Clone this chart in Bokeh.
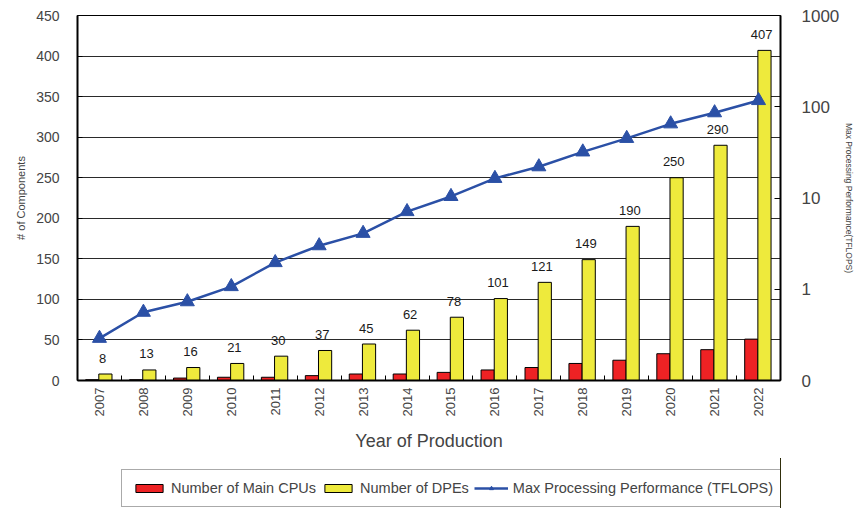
import math
from bokeh.plotting import figure
from bokeh.layouts import column
from bokeh.models import (Range1d, LogAxis, LogScale, FixedTicker, Legend, LegendItem,
                          CustomJSTickFormatter, PrintfTickFormatter, ColumnDataSource)
from bokeh.transform import dodge
from bokeh.core.properties import value
from bokeh.embed import file_html
from bokeh.resources import INLINE

years = [2007, 2008, 2009, 2010, 2011, 2012, 2013, 2014, 2015, 2016, 2017, 2018, 2019, 2020, 2021, 2022]
main_cpus = [1, 1, 3, 4, 4, 6, 8, 8, 10, 13, 16, 21, 25, 33, 38, 51]
dpes = [8, 13, 16, 21, 30, 37, 45, 62, 78, 101, 121, 149, 190, 250, 290, 407]
tflops = [0.29, 0.56, 0.73, 1.07, 1.96, 3.0, 4.1, 7.1, 10.4, 16.4, 22, 32, 45, 65, 86, 117]
left_ticks = [0, 50, 100, 150, 200, 250, 300, 350, 400, 450]
right_ticks = [0.1, 1, 10, 100, 1000]
series_names = ["Number of Main CPUs", "Number of DPEs", "Max Processing Performance (TFLOPS)"]

FONT = "Liberation Sans"
RED = "#ee2224"
YELLOW = "#eeea3c"
BLUE = "#2b50a6"

src = ColumnDataSource(dict(year=years, cpu=main_cpus, dpe=dpes, perf=tflops,
                            dpe_label=[str(v) for v in dpes]))

p = figure(width=857, height=458, x_range=Range1d(2006.5, 2022.5), y_range=Range1d(0, 450),
           output_backend="svg", toolbar_location=None,
           min_border_left=77, min_border_right=70, min_border_top=15, min_border_bottom=78)
p.extra_y_ranges = {"perf": Range1d(0.1, 1000)}
p.extra_y_scales = {"perf": LogScale()}

p.background_fill_color = "white"
p.outline_line_color = "black"
p.outline_line_width = 1
p.xgrid.grid_line_color = None
p.ygrid.grid_line_color = "#2a2a2a"
p.ygrid.grid_line_width = 1
p.ygrid.ticker = FixedTicker(ticks=left_ticks)

p.vbar(x=dodge("year", -0.165), top="cpu", width=0.3, source=src,
       fill_color=RED, line_color="black", line_width=1)
p.vbar(x=dodge("year", 0.135), top="dpe", width=0.3, source=src,
       fill_color=YELLOW, line_color="black", line_width=1)
p.text(x=dodge("year", 0.07), y="dpe", text="dpe_label", source=src, y_offset=-16,
       text_font=value(FONT), text_font_size="13px", text_align="center",
       text_baseline="middle", text_color="#1a1a1a")

p.line(x="year", y="perf", source=src, y_range_name="perf", line_color=BLUE, line_width=2.5)
p.scatter(x="year", y="perf", source=src, y_range_name="perf", marker="triangle",
          size=14, fill_color=BLUE, line_color=BLUE)

# left axis
yax = p.yaxis[0]
yax.ticker = FixedTicker(ticks=left_ticks)
yax.axis_label = "# of Components"
yax.axis_label_text_font = FONT
yax.axis_label_text_font_size = "11px"
yax.axis_label_text_font_style = "normal"
yax.axis_label_standoff = 6
yax.major_label_text_font = FONT
yax.major_label_text_font_size = "14px"
yax.major_label_standoff = 18
yax.major_tick_in = 5
yax.major_tick_out = 0
yax.minor_tick_line_color = None
yax.axis_line_width = 2
yax.axis_line_color = "black"

# right axis
rax = LogAxis(y_range_name="perf", ticker=FixedTicker(ticks=right_ticks))
rax.formatter = CustomJSTickFormatter(code="return tick < 0.5 ? '0' : String(Math.round(tick));")
rax.axis_label = "Max Processing Performance(TFLOPS)"
rax.axis_label_text_font = FONT
rax.axis_label_text_font_size = "8.5px"
rax.axis_label_text_font_style = "normal"
rax.axis_label_standoff = 2
rax.major_label_text_font = FONT
rax.major_label_text_font_size = "17px"
rax.major_label_standoff = 21
rax.major_tick_in = 6
rax.major_tick_out = 0
rax.minor_tick_line_color = None
rax.axis_line_width = 2
rax.axis_line_color = "black"
p.add_layout(rax, "right")

# bottom axis
xax = p.xaxis[0]
xax.ticker = FixedTicker(ticks=years, minor_ticks=[y + 0.5 for y in years[:-1]])
xax.formatter = PrintfTickFormatter(format="%d")
xax.major_label_orientation = math.pi / 2
xax.major_label_text_font = FONT
xax.major_label_text_font_size = "13px"
xax.major_label_standoff = 7
xax.major_tick_in = 0
xax.major_tick_out = 0
xax.minor_tick_in = 5
xax.minor_tick_out = 0
xax.minor_tick_line_color = "black"
xax.axis_line_width = 2
xax.axis_line_color = "black"
xax.axis_label = "Year of Production"
xax.axis_label_text_font = FONT
xax.axis_label_text_font_size = "18px"
xax.axis_label_text_font_style = "normal"
xax.axis_label_standoff = 12

# legend strip below the chart (proxy renderers fall outside this strip's ranges)
p2 = figure(width=857, height=50, x_range=Range1d(0, 1), y_range=Range1d(0, 1),
            output_backend="svg", toolbar_location=None,
            x_axis_location=None, y_axis_location=None, min_border=0)
p2.outline_line_color = None
p2.xgrid.grid_line_color = None
p2.ygrid.grid_line_color = None
l_cpu = p2.vbar(x="year", top="cpu", width=0.3, source=src,
                fill_color=RED, line_color="black", line_width=1)
l_dpe = p2.vbar(x="year", top="dpe", width=0.3, source=src,
                fill_color=YELLOW, line_color="black", line_width=1)
l_line = p2.line(x="year", y="perf", source=src, line_color=BLUE, line_width=2.5)
l_tri = p2.scatter(x="year", y="perf", source=src, marker="triangle", size=14,
                   fill_color=BLUE, line_color=BLUE)

legend = Legend(items=[
    LegendItem(label=series_names[0], renderers=[l_cpu]),
    LegendItem(label=series_names[1], renderers=[l_dpe]),
    LegendItem(label=series_names[2], renderers=[l_line, l_tri]),
], orientation="horizontal", location=(44, 1))
legend.label_text_font = FONT
legend.label_text_font_size = "14.5px"
legend.glyph_width = 34
legend.glyph_height = 10
legend.label_standoff = 5
legend.spacing = 5
legend.padding = 10
legend.margin = 0
legend.border_line_color = "#555555"
legend.border_line_width = 1
legend.background_fill_color = "white"
legend.background_fill_alpha = 1
p2.add_layout(legend, "center")

layout = column(p, p2, spacing=0)
open("out.html", "w").write(file_html(layout, INLINE))
